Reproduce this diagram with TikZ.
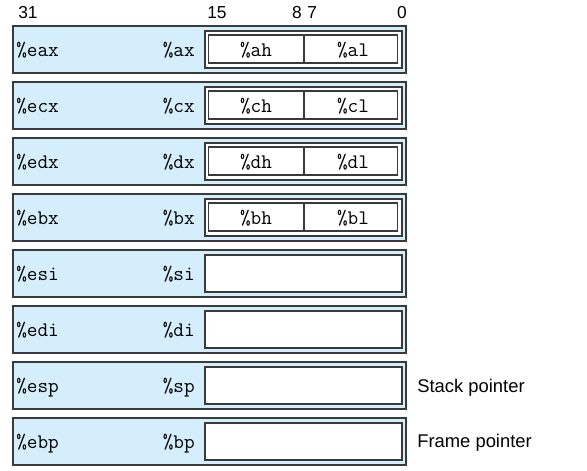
\documentclass[tikz,border=0pt]{standalone}
\usepackage{fontspec}
\setsansfont{Liberation Sans}
\definecolor{regblue}{HTML}{D4EEFB}
\definecolor{edgegray}{HTML}{3A3A3A}
\begin{document}
\begin{tikzpicture}[x=0.75pt,y=-0.75pt,
  regbox/.style={fill=regblue,draw=edgegray,line width=1.2pt},
  wordbox/.style={fill=white,draw=edgegray,line width=1pt},
  bytebox/.style={draw=edgegray,line width=0.9pt},
  regname/.style={inner sep=0pt,font=\fontsize{15.5}{18}\selectfont\ttfamily},
  bitnum/.style={inner sep=0pt,font=\fontsize{13}{15}\selectfont\sffamily},
  note/.style={inner sep=0pt,font=\fontsize{13.8}{16}\selectfont\sffamily}]
\useasboundingbox (0,0) rectangle (587,471);
\fill[white] (0,0) rectangle (587,471);
% bit numbers
\node[bitnum,anchor=base west] (b31) at (18,18) {31};
\node[bitnum,anchor=base west] (b15) at (207,18) {15};
\node[bitnum,anchor=base east] (b8) at (302,18) {8};
\node[bitnum,anchor=base west] (b7) at (307,18) {7};
\node[bitnum,anchor=base east] (b0) at (407,18) {0};
% rows with byte registers
\foreach \i/\e/\w/\h/\l in {0/eax/ax/ah/al,1/ecx/cx/ch/cl,2/edx/dx/dh/dl,3/ebx/bx/bh/bl}{
  \pgfmathsetmacro\t{26+56*\i}
  \pgfmathsetmacro\b{\t+47}
  \pgfmathsetmacro\it{\t+5}
  \pgfmathsetmacro\ib{\t+42}
  \pgfmathsetmacro\jt{\t+9}
  \pgfmathsetmacro\jb{\t+37}
  \pgfmathsetmacro\bl{\t+30.5}
  \draw[regbox] (13,\t) rectangle (406,\b);
  \draw[wordbox] (205,\it) rectangle (402,\ib);
  \draw[bytebox] (208.5,\jt) rectangle (397.5,\jb);
  \draw[bytebox] (304,\jt) -- (304,\jb);
  \node[regname,anchor=base west] (e\i) at (16,\bl) {\%\e};
  \node[regname,anchor=base east] (w\i) at (195,\bl) {\%\w};
  \node[regname,anchor=base] (h\i) at (256,\bl) {\%\h};
  \node[regname,anchor=base] (l\i) at (353,\bl) {\%\l};
}
% rows without byte registers
\foreach \i/\e/\w in {4/esi/si,5/edi/di,6/esp/sp,7/ebp/bp}{
  \pgfmathsetmacro\t{26+56*\i}
  \pgfmathsetmacro\b{\t+47}
  \pgfmathsetmacro\it{\t+5}
  \pgfmathsetmacro\ib{\t+42}
  \pgfmathsetmacro\bl{\t+30.5}
  \draw[regbox] (13,\t) rectangle (406,\b);
  \draw[wordbox] (205,\it) rectangle (402,\ib);
  \node[regname,anchor=base west] (e\i) at (16,\bl) {\%\e};
  \node[regname,anchor=base east] (w\i) at (195,\bl) {\%\w};
}
\node[note,anchor=base west] (sp) at (417,392) {Stack pointer};
\node[note,anchor=base west] (fp) at (417,447) {Frame pointer};
\end{tikzpicture}
\end{document}
